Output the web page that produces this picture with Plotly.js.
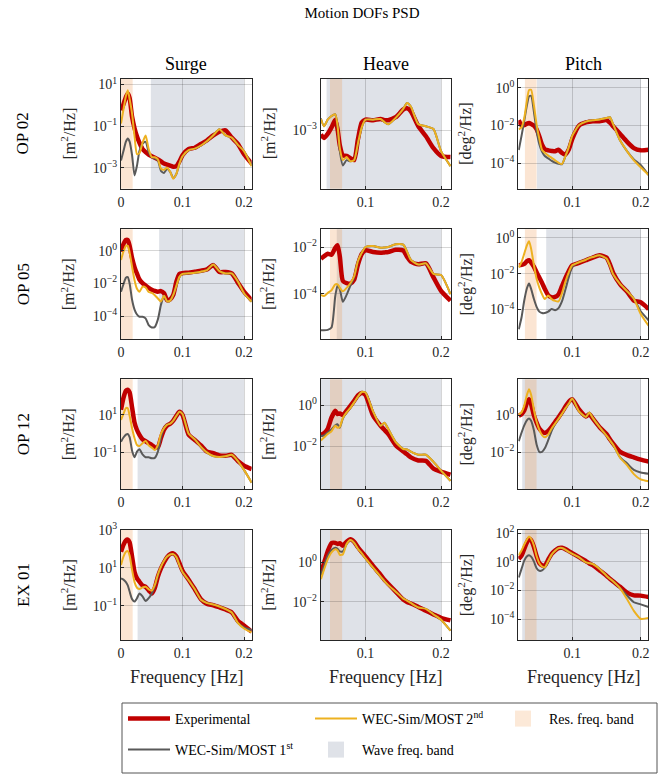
<!DOCTYPE html>
<html><head><meta charset="utf-8">
<script src="https://cdn.plot.ly/plotly-3.0.1.min.js"></script>
<style>html,body{margin:0;padding:0;background:#fff}#chart{width:665px;height:780px}</style>
</head><body><div id="chart"></div>
<script>
// ---------------- frequency grids (Hz) ----------------
const fSurge = [0, 0.004, 0.008, 0.011, 0.014, 0.018, 0.022, 0.026, 0.03, 0.035, 0.04, 0.045, 0.05, 0.055, 0.06, 0.065, 0.07, 0.075, 0.08, 0.085, 0.09, 0.095, 0.1, 0.11, 0.12, 0.13, 0.14, 0.15, 0.16, 0.17, 0.18, 0.19, 0.2, 0.2125];
const fHeave = [0.041, 0.045, 0.05, 0.055, 0.06, 0.063, 0.066, 0.07, 0.075, 0.08, 0.085, 0.09, 0.095, 0.1, 0.11, 0.12, 0.125, 0.13, 0.14, 0.15, 0.155, 0.16, 0.17, 0.18, 0.19, 0.2, 0.2125];
const fPitch = [0.022, 0.026, 0.03, 0.034, 0.037, 0.04, 0.044, 0.048, 0.052, 0.056, 0.06, 0.065, 0.07, 0.075, 0.08, 0.085, 0.09, 0.095, 0.1, 0.11, 0.12, 0.125, 0.13, 0.14, 0.15, 0.155, 0.16, 0.17, 0.18, 0.19, 0.2, 0.2115];

// ---------------- Surge PSD [m^2/Hz] ----------------
const surgeOP02Exp = [0.575, 1.12, 2.51, 3.72, 2.24, 0.282, 0.0794, 0.0316, 0.0158, 0.00794, 0.00562, 0.00427, 0.00355, 0.00302, 0.00251, 0.002, 0.00158, 0.00141, 0.00126, 0.00112, 0.0012, 0.002, 0.00398, 0.00794, 0.0091, 0.0138, 0.0209, 0.0355, 0.0537, 0.0631, 0.0282, 0.0141, 0.00447, 0.00158];
const surgeOP02Second = [0.132, 0.631, 2.82, 5.37, 2.0, 0.398, 0.0316, 0.00447, 0.00501, 0.0158, 0.0355, 0.00794, 0.00324, 0.00316, 0.00251, 0.00089, 0.000794, 0.001, 0.000631, 0.000295, 0.000501, 0.00158, 0.00355, 0.00708, 0.00832, 0.0117, 0.0191, 0.0363, 0.0708, 0.0355, 0.0282, 0.0126, 0.00631, 0.00115];
const surgeOP02First = [0.00224, 0.00631, 0.0178, 0.0251, 0.0178, 0.00398, 0.000427, 0.00126, 0.00631, 0.0141, 0.0174, 0.00562, 0.00316, 0.00282, 0.00224, 0.000708, 0.000562, 0.00089, 0.000631, 0.000316, 0.000501, 0.00158, 0.00355, 0.00708, 0.00832, 0.0117, 0.0191, 0.0363, 0.0708, 0.0355, 0.0282, 0.0126, 0.00631, 0.00126];

const surgeOP05Exp = [0.871, 2.51, 4.47, 4.47, 2.0, 0.355, 0.1, 0.0398, 0.0174, 0.0105, 0.00741, 0.00537, 0.00417, 0.00347, 0.00309, 0.00339, 0.00251, 0.000955, 0.00107, 0.002, 0.0126, 0.038, 0.0427, 0.0457, 0.0525, 0.0603, 0.0724, 0.132, 0.0501, 0.0501, 0.0407, 0.0112, 0.00316, 0.000955];
const surgeOP05Second = [0.269, 0.891, 2.0, 2.0, 0.794, 0.105, 0.0158, 0.00468, 0.00309, 0.00631, 0.00562, 0.00302, 0.00263, 0.00191, 0.0012, 0.000794, 0.00178, 0.000794, 0.000891, 0.002, 0.00708, 0.0251, 0.038, 0.0417, 0.0457, 0.0525, 0.0661, 0.145, 0.0562, 0.0407, 0.0407, 0.0132, 0.00251, 0.000759];
const surgeOP05First = [0.00309, 0.00891, 0.0224, 0.024, 0.01, 0.001, 0.000251, 0.000126, 0.0000912, 0.0000912, 0.0000724, 0.0000282, 0.0000204, 0.0000219, 0.0000631, 0.000501, 0.00178, 0.000794, 0.000891, 0.002, 0.00708, 0.0251, 0.038, 0.0417, 0.0457, 0.0525, 0.0661, 0.145, 0.0562, 0.0407, 0.0407, 0.0132, 0.00251, 0.000759];

const surgeOP12Exp = [18.6, 79.4, 191, 219, 158, 25.1, 3.98, 1.58, 0.871, 0.501, 0.398, 0.316, 0.251, 0.191, 0.191, 0.603, 1.66, 2.75, 3.39, 5.01, 8.91, 14.5, 10, 0.891, 0.468, 0.24, 0.112, 0.0933, 0.0708, 0.0676, 0.0759, 0.0355, 0.02, 0.0132];
const surgeOP12Second = [5.37, 11.2, 22.9, 22.4, 8.91, 1.95, 0.575, 0.251, 0.224, 0.316, 0.417, 0.24, 0.182, 0.138, 0.251, 1.0, 2.0, 3.02, 3.47, 5.01, 8.91, 14.8, 11.2, 1.0, 0.501, 0.2, 0.1, 0.0661, 0.0575, 0.0631, 0.0759, 0.0355, 0.012, 0.00251];
const surgeOP12First = [0.38, 0.631, 0.891, 0.977, 0.661, 0.126, 0.0562, 0.112, 0.151, 0.0794, 0.0562, 0.0562, 0.0501, 0.0525, 0.112, 0.631, 2.0, 3.02, 3.47, 5.01, 8.91, 14.8, 11.2, 1.0, 0.501, 0.2, 0.1, 0.0661, 0.0575, 0.0631, 0.0759, 0.0355, 0.012, 0.00251];

const surgeEX01Exp = [70.8, 166, 288, 316, 224, 39.8, 6.31, 2.82, 1.86, 1.17, 1.0, 0.646, 0.447, 0.891, 3.55, 9.55, 20, 37.2, 53.7, 58.9, 41.7, 17.8, 7.08, 2.4, 0.741, 0.224, 0.126, 0.107, 0.0832, 0.0631, 0.0447, 0.0158, 0.00891, 0.00427];
const surgeEX01Second = [14.1, 39.8, 70.8, 77.6, 44.7, 7.94, 1.78, 0.891, 0.759, 0.933, 1.0, 0.741, 0.631, 1.26, 4.47, 11.7, 24, 39.8, 51.3, 53.7, 37.2, 14.1, 6.03, 2.24, 0.741, 0.209, 0.138, 0.117, 0.0912, 0.0676, 0.0437, 0.0126, 0.00631, 0.00389];
const surgeEX01First = [2.75, 2.4, 1.78, 1.2, 0.562, 0.224, 0.166, 0.251, 0.447, 0.316, 0.178, 0.251, 0.447, 1.12, 3.98, 11.7, 24, 39.8, 51.3, 53.7, 37.2, 14.1, 6.03, 2.24, 0.741, 0.209, 0.138, 0.117, 0.0912, 0.0676, 0.0437, 0.0126, 0.00708, 0.00525];

// ---------------- Heave PSD [m^2/Hz] ----------------
const heaveOP02Exp = [8.51e-4, 7.41e-4, 8.71e-4, 1.12e-3, 1.51e-3, 1.05e-3, 5.62e-4, 3.8e-4, 3.72e-4, 3.39e-4, 3.16e-4, 7.08e-4, 1.35e-3, 1.51e-3, 1.48e-3, 1.55e-3, 1.48e-3, 1.48e-3, 1.66e-3, 2.24e-3, 2.34e-3, 2.09e-3, 1.17e-3, 7.94e-4, 5.01e-4, 3.72e-4, 3.55e-4];
const heaveOP02Second = [1.55e-3, 1.17e-3, 1.51e-3, 1.74e-3, 1.86e-3, 1.2e-3, 5.01e-4, 3.16e-4, 3.55e-4, 3.02e-4, 3.16e-4, 6.03e-4, 1.12e-3, 1.51e-3, 1.51e-3, 1.55e-3, 1.38e-3, 1.26e-3, 1.62e-3, 2.29e-3, 2.88e-3, 2.51e-3, 1.26e-3, 1.17e-3, 1.05e-3, 4.47e-4, 2.51e-4];
const heaveOP02First = [1.58e-3, 1.17e-3, 1.51e-3, 1.74e-3, 1.86e-3, 1.2e-3, 4.47e-4, 2.57e-4, 3.16e-4, 3.02e-4, 3.16e-4, 6.03e-4, 1.12e-3, 1.51e-3, 1.51e-3, 1.55e-3, 1.38e-3, 1.26e-3, 1.62e-3, 2.29e-3, 2.88e-3, 2.51e-3, 1.26e-3, 1.17e-3, 1.05e-3, 4.47e-4, 2.51e-4];

const heaveOP05Exp = [3.16e-3, 3.98e-3, 5.13e-3, 4.68e-3, 9.33e-3, 1.2e-2, 3.98e-3, 3.55e-4, 2.82e-4, 2.69e-4, 3.98e-4, 1.78e-3, 5.01e-3, 7.24e-3, 6.17e-3, 5.75e-3, 5.89e-3, 6.03e-3, 7.59e-3, 7.08e-3, 3.8e-3, 2.34e-3, 1.82e-3, 2.0e-3, 5.01e-4, 1.32e-4, 5.01e-5];
const heaveOP05Second = [8.91e-5, 7.94e-5, 1.07e-4, 1.41e-4, 2.51e-4, 2.51e-4, 1.78e-4, 1.26e-4, 1.78e-4, 2.82e-4, 5.62e-4, 2.51e-3, 5.62e-3, 1.0e-2, 1.1e-2, 9.33e-3, 9.55e-3, 1.0e-2, 1.32e-2, 1.26e-2, 6.31e-3, 2.82e-3, 1.78e-3, 2.0e-3, 7.08e-4, 6.31e-4, 9.55e-5];
const heaveOP05First = [2.69e-6, 2.69e-6, 2.82e-6, 3.55e-6, 7.94e-5, 2.24e-4, 1.58e-4, 4.47e-5, 8.91e-5, 2.24e-4, 5.25e-4, 2.51e-3, 5.62e-3, 1.0e-2, 1.1e-2, 9.33e-3, 9.55e-3, 1.0e-2, 1.32e-2, 1.26e-2, 6.31e-3, 2.82e-3, 1.78e-3, 2.0e-3, 7.08e-4, 6.31e-4, 9.55e-5];

const heaveOP12Exp = [0.0355, 0.0427, 0.0708, 0.251, 0.537, 0.372, 0.398, 0.331, 0.537, 0.933, 1.66, 3.02, 3.98, 3.16, 0.316, 0.1, 0.0631, 0.0398, 0.0112, 0.0055, 0.00398, 0.00282, 0.002, 0.00191, 0.000794, 0.000562, 0.000398];
const heaveOP12Second = [0.0191, 0.0263, 0.0398, 0.0537, 0.1, 0.0794, 0.0891, 0.24, 0.447, 0.741, 1.38, 2.63, 4.47, 4.17, 0.501, 0.1, 0.141, 0.0708, 0.0158, 0.00724, 0.00692, 0.00537, 0.0038, 0.0038, 0.0017, 0.000631, 0.0002];
const heaveOP12First = [0.0316, 0.0331, 0.0468, 0.0661, 0.105, 0.117, 0.0794, 0.224, 0.447, 0.741, 1.38, 2.63, 4.47, 4.17, 0.501, 0.1, 0.141, 0.0708, 0.0158, 0.00724, 0.00692, 0.00537, 0.0038, 0.0038, 0.0017, 0.000631, 0.0002];

const heaveEX01Exp = [0.282, 0.891, 3.63, 9.33, 9.55, 8.51, 9.12, 6.92, 11.0, 14.5, 10.7, 5.75, 3.31, 2.0, 0.661, 0.234, 0.132, 0.0832, 0.0331, 0.0132, 0.01, 0.00832, 0.00562, 0.00355, 0.00234, 0.00158, 0.00117];
const heaveEX01Second = [0.141, 0.417, 1.41, 3.16, 4.57, 3.98, 2.4, 2.51, 8.32, 13.2, 9.55, 4.79, 2.82, 1.58, 0.537, 0.191, 0.112, 0.0708, 0.0331, 0.0148, 0.0117, 0.00891, 0.00525, 0.00447, 0.00234, 0.00126, 0.000355];
const heaveEX01First = [0.224, 0.631, 2.14, 4.17, 5.5, 4.79, 3.55, 3.55, 8.32, 13.2, 9.55, 4.79, 2.82, 1.58, 0.537, 0.191, 0.112, 0.0708, 0.0331, 0.0148, 0.0117, 0.00891, 0.00525, 0.00447, 0.00234, 0.00126, 0.000355];

// ---------------- Pitch PSD [deg^2/Hz] ----------------
const pitchOP02Exp = [0.0191, 0.01, 0.0105, 0.0126, 0.0135, 0.012, 0.01, 0.00631, 0.00263, 0.000955, 0.00055, 0.000479, 0.000447, 0.000427, 0.000513, 0.000347, 0.000288, 0.000525, 0.00191, 0.01, 0.0145, 0.0158, 0.0166, 0.017, 0.0195, 0.0141, 0.00891, 0.00355, 0.00138, 0.000631, 0.000479, 0.000513];
const pitchOP02Second = [0.00631, 0.00794, 0.0251, 0.224, 0.759, 0.794, 0.126, 0.0112, 0.002, 0.000501, 0.000355, 0.000251, 0.000191, 0.000141, 0.000105, 0.0000891, 0.000229, 0.000708, 0.00282, 0.0105, 0.0162, 0.0178, 0.0191, 0.0209, 0.0251, 0.0275, 0.0112, 0.00158, 0.000437, 0.000141, 0.0000603, 0.0000234];
const pitchOP02First = [0.000501, 0.00282, 0.0178, 0.126, 0.355, 0.38, 0.0562, 0.00501, 0.001, 0.000398, 0.00024, 0.000178, 0.000132, 0.000107, 0.0000933, 0.0000871, 0.000229, 0.000708, 0.00282, 0.0105, 0.0162, 0.0178, 0.0191, 0.0209, 0.0251, 0.0275, 0.0112, 0.00158, 0.000437, 0.000158, 0.0000794, 0.0000234];

const pitchOP05Exp = [0.0295, 0.0309, 0.0355, 0.0501, 0.0562, 0.0417, 0.0251, 0.012, 0.00603, 0.00302, 0.00141, 0.000631, 0.000479, 0.000501, 0.000708, 0.002, 0.00562, 0.0141, 0.0295, 0.0398, 0.0562, 0.0676, 0.0794, 0.107, 0.0794, 0.0339, 0.0105, 0.00251, 0.001, 0.000316, 0.000251, 0.000105];
const pitchOP05Second = [0.0224, 0.0447, 0.132, 0.398, 0.646, 0.251, 0.0316, 0.00525, 0.00166, 0.000708, 0.00038, 0.000603, 0.00038, 0.000302, 0.000282, 0.000794, 0.00355, 0.012, 0.0295, 0.0437, 0.0603, 0.0741, 0.0851, 0.107, 0.0708, 0.0282, 0.00891, 0.00263, 0.00107, 0.000398, 0.0000562, 0.0000123];
const pitchOP05First = [0.00000794, 0.0000355, 0.000316, 0.00158, 0.00282, 0.00141, 0.000398, 0.000141, 0.0000759, 0.0000631, 0.0000631, 0.0000759, 0.000105, 0.0000912, 0.00012, 0.000282, 0.00126, 0.00631, 0.024, 0.0437, 0.0603, 0.0741, 0.0851, 0.107, 0.0708, 0.0282, 0.00891, 0.00263, 0.00107, 0.000398, 0.0000794, 0.0000251];

const pitchOP12Exp = [0.933, 1.12, 1.78, 4.79, 7.24, 3.98, 1.0, 0.398, 0.191, 0.132, 0.11, 0.141, 0.234, 0.427, 0.759, 1.41, 2.82, 5.25, 7.24, 2.0, 0.851, 1.1, 0.661, 0.224, 0.0955, 0.0501, 0.0282, 0.0105, 0.00692, 0.00525, 0.00398, 0.00316];
const pitchOP12Second = [1.07, 1.41, 3.16, 12.6, 24.5, 12.6, 2.0, 0.447, 0.158, 0.0832, 0.0631, 0.0891, 0.191, 0.347, 0.631, 1.17, 2.29, 4.17, 7.76, 1.58, 0.794, 1.38, 0.708, 0.224, 0.0776, 0.0447, 0.0245, 0.00501, 0.002, 0.000661, 0.000339, 0.000269];
const pitchOP12First = [0.0398, 0.112, 0.282, 0.537, 0.661, 0.501, 0.158, 0.0263, 0.0105, 0.0105, 0.0162, 0.0447, 0.141, 0.331, 0.631, 1.17, 2.29, 4.17, 7.76, 1.58, 0.794, 1.38, 0.708, 0.224, 0.0776, 0.0447, 0.0245, 0.00525, 0.00251, 0.00112, 0.000813, 0.000692];

const pitchEX01Exp = [1.58, 2.63, 7.94, 22.4, 39.8, 31.6, 11.2, 2.51, 0.794, 0.562, 0.525, 1.41, 3.55, 6.03, 8.91, 9.33, 7.59, 5.5, 3.98, 2.09, 1.12, 0.759, 0.575, 0.251, 0.107, 0.0661, 0.0417, 0.0178, 0.00708, 0.00457, 0.00437, 0.00347];
const pitchEX01Second = [2.82, 6.03, 15.8, 35.5, 56.2, 39.8, 14.1, 2.51, 0.794, 0.468, 0.407, 1.12, 3.16, 5.89, 8.91, 9.12, 7.08, 4.79, 3.55, 2.0, 0.891, 0.794, 0.692, 0.316, 0.107, 0.0661, 0.0417, 0.0141, 0.00251, 0.00038, 0.000107, 0.000123];
const pitchEX01First = [0.0794, 0.316, 1.2, 2.4, 2.88, 2.24, 1.05, 0.355, 0.234, 0.251, 0.38, 1.12, 3.16, 5.89, 8.91, 9.12, 7.08, 4.79, 3.55, 2.0, 0.891, 0.794, 0.692, 0.316, 0.107, 0.0661, 0.0417, 0.0141, 0.00447, 0.00151, 0.00107, 0.000708];

// ---------------- categories, bands, tick labels ----------------
const rowNames = ['OP 02', 'OP 05', 'OP 12', 'EX 01'];
const colNames = ['Surge', 'Heave', 'Pitch'];
const unitLabels = ['[m<sup>2</sup>/Hz]', '[m<sup>2</sup>/Hz]', '[deg<sup>2</sup>/Hz]'];
const waveBand = [[0.0485, 0.2], [0.062, 0.2], [0.027, 0.2], [0.027, 0.2]];   // per sea state
const resBand = [[0, 0.019], [0.053, 0.069], [0.031, 0.048]];                 // per DOF
const xTickVals = [[0, 0.1, 0.2], [0.1, 0.2], [0.1, 0.2]];
const xTickText = [['0', '0.1', '0.2'], ['0.1', '0.2'], ['0.1', '0.2']];
const yTickExp = [
  [[1, -1, -3], [-3], [0, -2, -4]],
  [[0, -2, -4], [-2, -4], [0, -2, -4]],
  [[1, -1], [0, -2], [0, -2]],
  [[3, 1, -1], [0, -2], [2, 0, -2, -4]]
];

const freqs = [fSurge, fHeave, fPitch];
const expData = [
  [surgeOP02Exp, heaveOP02Exp, pitchOP02Exp],
  [surgeOP05Exp, heaveOP05Exp, pitchOP05Exp],
  [surgeOP12Exp, heaveOP12Exp, pitchOP12Exp],
  [surgeEX01Exp, heaveEX01Exp, pitchEX01Exp]
];
const firstData = [
  [surgeOP02First, heaveOP02First, pitchOP02First],
  [surgeOP05First, heaveOP05First, pitchOP05First],
  [surgeOP12First, heaveOP12First, pitchOP12First],
  [surgeEX01First, heaveEX01First, pitchEX01First]
];
const secondData = [
  [surgeOP02Second, heaveOP02Second, pitchOP02Second],
  [surgeOP05Second, heaveOP05Second, pitchOP05Second],
  [surgeOP12Second, heaveOP12Second, pitchOP12Second],
  [surgeEX01Second, heaveEX01Second, pitchEX01Second]
];

// ---------------- layout geometry (pixels) ----------------
const W = 665, H = 780;
const colPx = [[121, 251.7], [320.7, 451], [518.3, 648.3]];
const rowPx = [[78.5, 188.7], [229.3, 339.2], [379.3, 489.3], [530, 640]];
const xRanges = [[0, 0.2125], [0.0407, 0.2132], [0.0213, 0.2111]];
const yRanges = [
  [[-4.01, 1.29], [-3.98, -2.13], [-5.36, 0.5]],
  [[-5.41, 1.31], [-5.95, -1.24], [-5.66, 0.48]],
  [[-2.95, 2.89], [-4.11, 1.27], [-4.0, 1.93]],
  [[-2.81, 3.005], [-3.92, 1.63], [-5.45, 2.21]]
];

const SERIF = '"Liberation Serif", "DejaVu Serif", serif';
const AX = '#262626';
const C_EXP = '#c00000', C_1ST = '#595959', C_2ND = '#EDB120';
const C_RES = 'rgba(240,145,70,0.24)', C_WAVE = 'rgba(110,125,150,0.22)';
const px2x = p => p / W, px2y = p => 1 - p / H;
const supExp = e => '10<sup>' + (e < 0 ? '\u2212' + (-e) : e) + '</sup>';

const traces = [];
const legendBase = {xanchor: 'left', yanchor: 'middle', orientation: 'h',
  entrywidth: 130, entrywidthmode: 'pixels', itemwidth: 42, bgcolor: 'rgba(0,0,0,0)',
  borderwidth: 0, font: {family: SERIF, size: 14, color: '#000'}, traceorder: 'normal'};
const layout = {
  width: W, height: H,
  margin: {l: 0, r: 0, t: 0, b: 0, autoexpand: false},
  paper_bgcolor: '#fff', plot_bgcolor: '#fff',
  font: {family: SERIF, color: '#000'},
  title: {text: 'Motion DOFs PSD', x: 362 / W, xanchor: 'center', xref: 'container',
          y: 1 - 13 / H, yanchor: 'middle', yref: 'container', font: {family: SERIF, size: 15, color: '#000'}},
  shapes: [], annotations: [],
  legend: Object.assign({}, legendBase, {x: 123 / W, y: px2y(719)}),
  legend2: Object.assign({}, legendBase, {x: 123 / W, y: px2y(750)}),
  showlegend: true
};

for (let r = 0; r < 4; r++) {
  for (let c = 0; c < 3; c++) {
    const i = r * 3 + c + 1;
    const s = i === 1 ? '' : String(i);
    const xa = 'x' + s, ya = 'y' + s;
    const first = i === 1;
    const common = {xaxis: xa, yaxis: ya, mode: 'lines', hoverinfo: 'skip'};
    traces.push(Object.assign({}, common, {x: freqs[c], y: expData[r][c], name: 'Experimental',
      line: {color: C_EXP, width: 4.5, shape: 'spline', smoothing: 0.6},
      showlegend: first, legend: 'legend', legendrank: 1}));
    traces.push(Object.assign({}, common, {x: freqs[c], y: firstData[r][c], name: 'WEC-Sim/MOST 1<sup>st</sup>',
      line: {color: C_1ST, width: 2, shape: 'spline', smoothing: 0.6},
      showlegend: first, legend: 'legend2', legendrank: 1}));
    traces.push(Object.assign({}, common, {x: freqs[c], y: secondData[r][c], name: 'WEC-Sim/MOST 2<sup>nd</sup>',
      line: {color: C_2ND, width: 2, shape: 'spline', smoothing: 0.6},
      showlegend: first, legend: 'legend', legendrank: 2}));

    layout['xaxis' + s] = {
      domain: [px2x(colPx[c][0]), px2x(colPx[c][1])], range: xRanges[c], anchor: ya,
      tickmode: 'array', tickvals: xTickVals[c], ticktext: xTickText[c],
      ticks: 'inside', ticklen: 3, tickcolor: AX, showline: true, mirror: true, linecolor: AX, linewidth: 1,
      showgrid: true, gridcolor: 'rgba(0,0,0,0.16)', gridwidth: 1, zeroline: false,
      tickfont: {family: SERIF, size: 14, color: AX}, fixedrange: true
    };
    const ex = yTickExp[r][c];
    layout['yaxis' + s] = {
      type: 'log', domain: [px2y(rowPx[r][1]), px2y(rowPx[r][0])], range: yRanges[r][c], anchor: xa,
      tickmode: 'array', tickvals: ex.map(e => Math.pow(10, e)), ticktext: ex.map(supExp),
      ticks: 'inside', ticklen: 3, tickcolor: AX, showline: true, mirror: true, linecolor: AX, linewidth: 1,
      showgrid: true, gridcolor: 'rgba(0,0,0,0.16)', gridwidth: 1, zeroline: false,
      tickfont: {family: SERIF, size: 14, color: AX}, fixedrange: true
    };

    layout.shapes.push({type: 'rect', xref: xa, yref: ya + ' domain', x0: waveBand[r][0], x1: waveBand[r][1],
      y0: 0, y1: 1, fillcolor: C_WAVE, line: {width: 0}, layer: 'below'});
    layout.shapes.push({type: 'rect', xref: xa, yref: ya + ' domain', x0: resBand[c][0], x1: resBand[c][1],
      y0: 0, y1: 1, fillcolor: C_RES, line: {width: 0}, layer: 'below'});

    // y-axis unit label
    layout.annotations.push({text: unitLabels[c], xref: 'paper', yref: 'paper',
      x: px2x(colPx[c][0] - 53), y: px2y((rowPx[r][0] + rowPx[r][1]) / 2), textangle: -90,
      showarrow: false, xanchor: 'center', yanchor: 'middle', font: {family: SERIF, size: 16, color: AX}});
  }
  // row label
  layout.annotations.push({text: rowNames[r], xref: 'paper', yref: 'paper', x: px2x(23),
    y: px2y((rowPx[r][0] + rowPx[r][1]) / 2), textangle: -90, showarrow: false,
    xanchor: 'center', yanchor: 'middle', font: {family: SERIF, size: 17, color: '#000'}});
}
for (let c = 0; c < 3; c++) {
  const cx = px2x((colPx[c][0] + colPx[c][1]) / 2);
  layout.annotations.push({text: colNames[c], xref: 'paper', yref: 'paper', x: cx, y: px2y(64),
    showarrow: false, xanchor: 'center', yanchor: 'middle', font: {family: SERIF, size: 18, color: '#000'}});
  layout.annotations.push({text: 'Frequency [Hz]', xref: 'paper', yref: 'paper', x: cx, y: px2y(677),
    showarrow: false, xanchor: 'center', yanchor: 'middle', font: {family: SERIF, size: 18, color: AX}});
}

// legend-only entries for the shaded bands
traces.push({x: [null], y: [null], xaxis: 'x', yaxis: 'y', mode: 'markers', name: 'Res. freq. band',
  marker: {symbol: 'square', size: 16, color: '#fce9d8'}, legend: 'legend', legendrank: 3, hoverinfo: 'skip'});
traces.push({x: [null], y: [null], xaxis: 'x', yaxis: 'y', mode: 'markers', name: 'Wave freq. band',
  marker: {symbol: 'square', size: 16, color: '#dfe2e8'}, legend: 'legend2', legendrank: 2, hoverinfo: 'skip'});

// legend frame
layout.shapes.push({type: 'rect', xref: 'paper', yref: 'paper', x0: px2x(122), x1: px2x(657),
  y0: px2y(773), y1: px2y(703), line: {color: '#555', width: 1}, fillcolor: 'rgba(0,0,0,0)', layer: 'above'});

Plotly.newPlot('chart', traces, layout, {staticPlot: true, displayModeBar: false});
</script>
</body></html>
